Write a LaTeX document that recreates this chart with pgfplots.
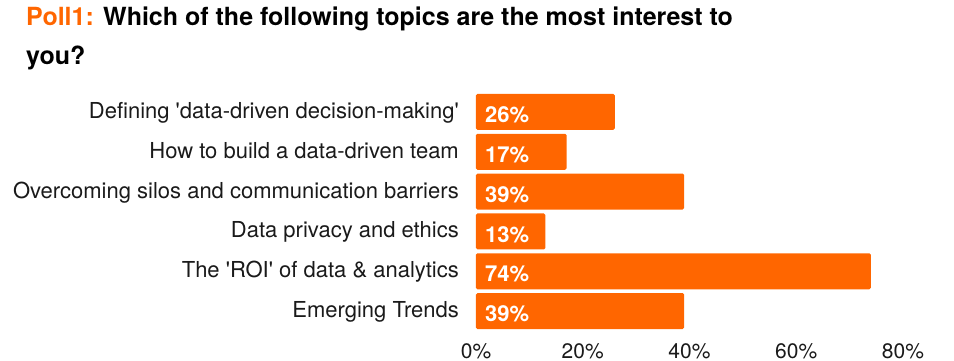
\documentclass[border=0pt]{standalone}
\usepackage{fontspec}
\setmainfont{TeX Gyre Heros}
\usepackage{pgfplots}
\usepackage{pgfplotstable}
\pgfplotsset{compat=1.18}
\definecolor{orng}{HTML}{FF6600}
\definecolor{txt}{HTML}{1A1A1A}
\pgfplotstableread{
y v
0 26
1 17
2 39
3 13
4 74
5 39
}\data
\begin{document}
\begin{tikzpicture}[x=1pt,y=1pt]
\path[use as bounding box] (0,0) rectangle (954,361);
\node[anchor=base west, inner sep=0pt, font=\fontsize{25}{39}\selectfont\bfseries, align=left, text=black] at (26,296) {\textcolor{orng}{Poll1:} Which of the following topics are the most interest to\\you?};
\begin{axis}[
  at={(476pt,30pt)}, anchor=south west,
  scale only axis, width=427pt, height=239pt,
  xmin=0, xmax=80, ymin=-0.5, ymax=5.5, y dir=reverse,
  axis line style={draw=none}, major tick length=0pt,
  clip=false,
  xtick={0,20,40,60,80},
  xticklabel={\pgfmathprintnumber{\tick}\%},
  ytick={0,1,2,3,4,5},
  yticklabels={Defining \textquotesingle data-driven decision-making\textquotesingle,
    How to build a data-driven team,
    Overcoming silos and communication barriers,
    Data privacy and ethics,
    The \textquotesingle ROI\textquotesingle{} of data \& analytics,
    Emerging Trends},
  yticklabel style={font=\fontsize{22}{26}\selectfont, text=txt, anchor=base east, inner sep=0pt, xshift=-17pt, yshift=-6.5pt},
  xticklabel style={font=\fontsize{21}{25}\selectfont, text=txt, anchor=base, inner sep=0pt, yshift=-27pt},
  /pgf/number format/assume math mode=true,
]
\addplot[xbar, fill=orng, draw=none, bar width=36pt, rounded corners=1.5pt] table[x=v, y=y]{\data};
\addplot[draw=none, mark=none, point meta=\thisrow{v},
  nodes near coords={\pgfmathprintnumber{\pgfplotspointmeta}\%},
  nodes near coords style={anchor=base west, inner sep=0pt, xshift=9pt, yshift=-10.7pt, text=white, font=\fontsize{22}{26}\selectfont\bfseries}]
  table[x expr=0, y=y]{\data};
\end{axis}
\end{tikzpicture}
\end{document}
